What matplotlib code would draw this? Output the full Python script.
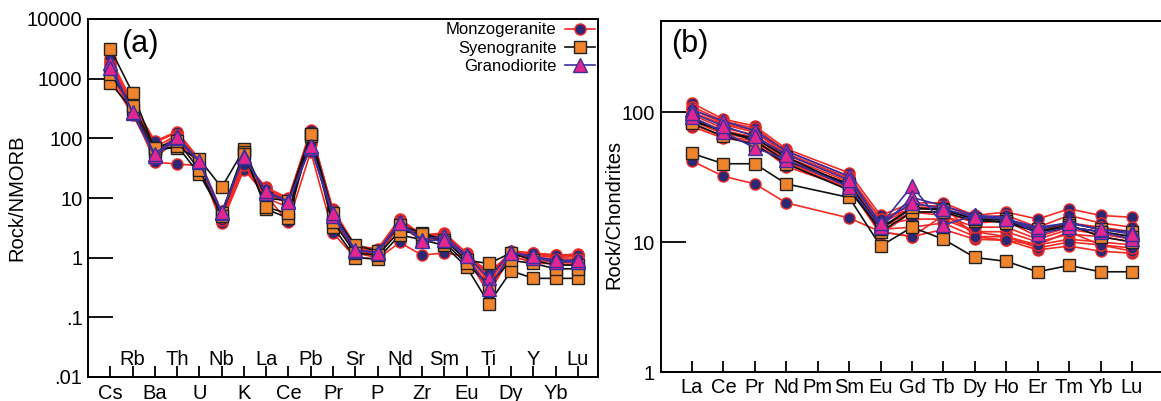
import numpy as np
import matplotlib
matplotlib.use("Agg")
import matplotlib.pyplot as plt
from matplotlib.lines import Line2D
from matplotlib.ticker import FixedLocator, NullLocator

plt.rcParams['font.family'] = ['Liberation Sans', 'DejaVu Sans']

# ---------------- Panel (a): NMORB-normalised spider diagram ----------------
elements_a = ["Cs", "Rb", "Ba", "Th", "U", "Nb", "K", "La", "Ce", "Pb", "Pr",
              "Sr", "P", "Nd", "Zr", "Sm", "Eu", "Ti", "Dy", "Y", "Yb", "Lu"]

monzo_a = [
    [2000, 350, 85, 125, 45, 5.0, 40, 15, 10, 130, 6.5, 1.6, 1.4, 4.5, 2.4, 2.6, 1.2, 0.5, 1.3, 1.2, 1.1, 1.15],
    [1500, 300, 60, 110, 40, 4.5, 35, 13, 9, 100, 5.5, 1.4, 1.2, 4.0, 2.2, 2.3, 1.1, 0.4, 1.2, 1.1, 1.0, 1.05],
    [1200, 270, 45, 100, 38, 4.0, 32, 12, 8, 90, 5.0, 1.3, 1.1, 3.8, 2.0, 2.1, 1.0, 0.35, 1.1, 1.0, 0.9, 0.9],
    [1800, 320, 40, 37, 35, 3.8, 30, 11, 3.9, 60, 2.6, 1.0, 0.95, 1.8, 1.1, 1.2, 1.05, 0.6, 1.1, 0.8, 0.8, 0.75],
    [2200, 400, 90, 130, 44, 6.0, 45, 14, 9.5, 140, 6.0, 1.5, 1.3, 4.3, 2.3, 2.5, 1.15, 0.45, 1.25, 1.15, 1.05, 1.1],
    [1000, 250, 50, 95, 36, 4.2, 38, 10, 7, 80, 4.5, 1.2, 1.0, 3.5, 1.9, 2.0, 0.95, 0.3, 1.0, 0.9, 0.85, 0.8],
    [1400, 280, 70, 115, 42, 5.5, 42, 14, 9, 110, 5.8, 1.4, 1.25, 4.2, 2.1, 2.4, 1.1, 0.55, 1.2, 1.2, 1.1, 1.1],
    [1700, 330, 55, 105, 39, 4.8, 36, 12, 8.5, 120, 5.2, 1.3, 1.15, 3.9, 2.0, 2.2, 1.0, 0.25, 1.1, 1.0, 0.95, 0.95],
]
syeno_a = [
    [3200, 580, 65, 70, 45, 15, 65, 10, 9, 120, 5.5, 1.6, 1.3, 3.5, 2.6, 2.0, 0.9, 0.8, 1.2, 0.9, 0.75, 0.75],
    [850, 300, 60, 75, 25, 5.5, 60, 6.5, 4.6, 110, 3.3, 1.0, 0.95, 2.4, 2.0, 1.6, 0.7, 0.17, 0.6, 0.45, 0.45, 0.45],
    [1200, 350, 70, 90, 30, 5.0, 55, 7, 5.5, 120, 4.0, 1.2, 1.1, 2.8, 2.5, 1.8, 0.8, 0.35, 0.9, 0.8, 0.65, 0.65],
]
grano_a = [
    [1800, 270, 50, 100, 40, 5.5, 50, 12, 9, 70, 5.0, 1.3, 1.25, 4.0, 2.0, 2.3, 1.1, 0.45, 1.25, 1.0, 0.85, 0.85],
    [1500, 280, 55, 105, 42, 5.8, 48, 13, 8.5, 75, 5.5, 1.35, 1.2, 3.8, 1.9, 2.0, 1.05, 0.3, 1.2, 1.05, 0.9, 0.9],
]
yticks_a = [0.01, 0.1, 1, 10, 100, 1000, 10000]
ylabels_a = [".01", ".1", "1", "10", "100", "1000", "10000"]

# ---------------- Panel (b): Chondrite-normalised REE ----------------
elements_b = ["La", "Ce", "Pr", "Nd", "Pm", "Sm", "Eu", "Gd", "Tb", "Dy", "Ho",
              "Er", "Tm", "Yb", "Lu"]
monzo_b = [
    [117, 88, 78, 52, None, 34, 16, 20, 20, 16, 17, 15, 18, 16, 15.5],
    [110, 85, 75, 50, None, 32, 15, 19, 19, 15.5, 16, 13, 16, 14, 13],
    [100, 80, 70, 47, None, 30, 14, 18, 18, 15, 15, 12, 14, 13, 12],
    [95, 75, 67, 45, None, 29, 13, 17, 17, 14, 14.5, 11, 13, 12, 11],
    [90, 72, 64, 43, None, 28, 13.5, 15, 15, 12, 12, 10, 11.5, 11, 10],
    [85, 68, 62, 41, None, 27, 12.5, 13, 14, 11, 11, 9.5, 10.5, 10, 9.5],
    [77, 63, 58, 38, None, 26, 12, 11, 12.5, 10.5, 10.3, 8.7, 9.3, 8.5, 8.2],
    [42, 32, 28, 20, None, 15.3, 12, 11, 16, 12, 11, 9, 10, 9.5, 8.5],
    [105, 82, 72, 48, None, 31, 15, 18, 19, 11, 10.3, 9.5, 12, 9.5, 9],
    [80, 65, 60, 40, None, 26, 11.5, 17, 16, 13, 13, 10.5, 12.5, 11.5, 10.5],
]
syeno_b = [
    [48, 40, 40, 28, None, 22, 9.3, 13, 10.5, 7.6, 7.1, 5.9, 6.6, 5.9, 5.9],
    [85, 72, 60, 42, None, 28, 13, 18, 18, 15, 15, 12.5, 14, 12.5, 12],
    [88, 70, 63, 45, None, 27, 12, 17, 17, 14.5, 14.5, 12, 13.5, 11, 10],
    [82, 65, 56, 40, None, 25, 12.5, 18.5, 17.5, 15, 14, 12, 13, 12, 11],
]
grano_b = [
    [104, 85, 72, 50, None, 32, 13.5, 27, 13.5, 16, 15.5, 11.5, 13, 12, 10.5],
    [92, 70, 53, 43, None, 26.5, 13, 22, 19, 16, 15, 12.5, 14.2, 12.4, 12],
    [98, 78, 65, 47, None, 30, 14, 20, 18, 15.5, 15, 13, 14, 12.5, 11.5],
]
yticks_b = [1, 10, 100]
ylabels_b = ["1", "10", "100"]

# ---------------- styles ----------------
RED = "#f22a25"
NAVY = "#2d2873"
ORANGE = "#f0842c"
MAGENTA = "#e3268f"
BLUEL = "#3b2f9e"

styles = {
    "Monzogeranite": dict(color=RED, marker="o", mfc=NAVY, mec=RED, ms=8, mew=1.0, lw=1.2),
    "Syenogranite": dict(color="#111111", marker="s", mfc=ORANGE, mec="#222222", ms=9, mew=1.0, lw=1.2),
    "Granodiorite": dict(color=BLUEL, marker="^", mfc=MAGENTA, mec=BLUEL, ms=9.5, mew=1.0, lw=1.2),
}

W, H = 1161, 401
fig = plt.figure(figsize=(W / 100, H / 100), dpi=100)
fig.patch.set_facecolor("white")


def px_axes(l, t, r, b):
    return fig.add_axes([l / W, (H - b) / H, (r - l) / W, (b - t) / H])


def draw_series(ax, data, style):
    for row in data:
        xs = [i for i, v in enumerate(row) if v is not None]
        ys = [v for v in row if v is not None]
        ax.plot(xs, ys, **style)


FS = 14.5

# ---- (a)
axa = px_axes(88, 19, 598, 377)
draw_series(axa, monzo_a, styles["Monzogeranite"])
draw_series(axa, syeno_a, styles["Syenogranite"])
draw_series(axa, grano_a, styles["Granodiorite"])
axa.set_yscale("log")
axa.set_ylim(0.01, 10000)
axa.set_xlim(-1, 21.9)
axa.yaxis.set_major_locator(FixedLocator(yticks_a))
axa.yaxis.set_minor_locator(NullLocator())
axa.set_yticklabels(ylabels_a)
axa.set_xticks(range(len(elements_a)))
axa.set_xticklabels([e if i % 2 == 0 else "" for i, e in enumerate(elements_a)])
axa.tick_params(axis="y", direction="in", length=18, width=1.3, labelsize=FS, pad=4)
axa.tick_params(axis="x", direction="in", length=8, width=1.3, labelsize=FS, pad=5)
for i, e in enumerate(elements_a):
    if i % 2 == 1:
        axa.text(i, 12 / 358, e, transform=axa.get_xaxis_transform(),
                 ha="center", va="baseline", fontsize=FS)
axa.set_ylabel("Rock/NMORB", fontsize=FS)
axa.yaxis.set_label_coords(-0.12, 0.5)
axa.text(0.065, 0.93, "(a)", transform=axa.transAxes, fontsize=22, va="center", ha="left")
for s in axa.spines.values():
    s.set_linewidth(1.4)

handles = [Line2D([0], [0], **styles[k]) for k in styles]
leg = axa.legend(handles, list(styles.keys()), loc="upper right", bbox_to_anchor=(1.0, 1.0),
                 frameon=False, markerfirst=False, fontsize=12, handlelength=1.8,
                 handletextpad=0.5, labelspacing=0.2, borderaxespad=0.0, borderpad=0.2)

# ---- (b)
axb = px_axes(660.6, 21, 1163.4, 372)
draw_series(axb, monzo_b, styles["Monzogeranite"])
draw_series(axb, syeno_b, styles["Syenogranite"])
draw_series(axb, grano_b, styles["Granodiorite"])
axb.set_yscale("log")
axb.set_ylim(1, 10 ** 2.7)
axb.set_xlim(-1, 15)
axb.yaxis.set_major_locator(FixedLocator(yticks_b))
axb.yaxis.set_minor_locator(NullLocator())
axb.set_yticklabels(ylabels_b)
axb.set_xticks(range(len(elements_b)))
axb.set_xticklabels(elements_b)
axb.tick_params(axis="y", direction="in", length=18, width=1.3, labelsize=FS, pad=4)
axb.tick_params(axis="x", direction="in", length=8, width=1.3, labelsize=FS, pad=4)
axb.set_ylabel("Rock/Chondrites", fontsize=FS)
axb.yaxis.set_label_coords(-0.075, 0.45)
axb.text(0.02, 0.935, "(b)", transform=axb.transAxes, fontsize=22, va="center", ha="left")
for s in axb.spines.values():
    s.set_linewidth(1.4)

fig.savefig("out.png", dpi=100, facecolor="white")
